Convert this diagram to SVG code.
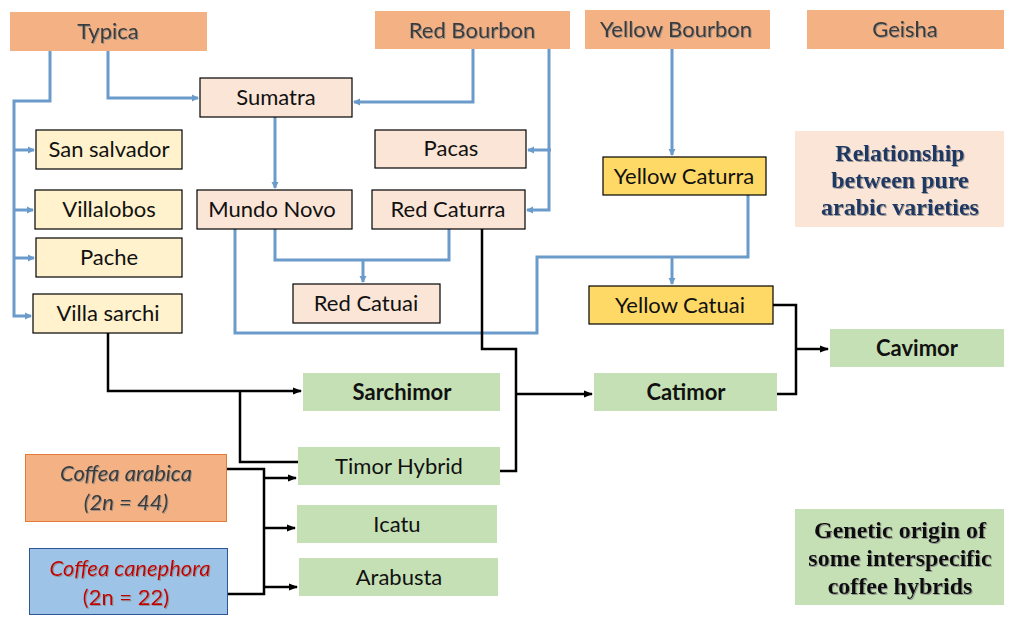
<svg xmlns="http://www.w3.org/2000/svg" width="1011" height="621" viewBox="0 0 1011 621">
<defs>
<style>
.hdr{fill:#F4B183}
.pk{fill:#FBE5D6;stroke:#000;stroke-width:1.2}
.yl{fill:#FFF2CC;stroke:#000;stroke-width:1.2}
.yd{fill:#FFD966;stroke:#000;stroke-width:1.2}
.gr{fill:#C5E0B4}
text{font-family:Lato,"Open Sans","Liberation Sans",sans-serif;font-size:22px;fill:#111;text-anchor:middle}
.ht{fill:#3a3a3a;filter:url(#sh)}
.b{font-weight:bold}
.ser{font-family:"Liberation Serif","DejaVu Serif",serif;font-weight:bold;font-size:24px;filter:url(#sh)}
.blu{stroke:#6A9BCB;stroke-width:3;fill:none}
.blk{stroke:#000;stroke-width:2.5;fill:none}
</style>
<filter id="sh" x="-10%" y="-20%" width="130%" height="150%"><feDropShadow dx="1" dy="1" stdDeviation="0.6" flood-color="#888" flood-opacity="0.8"/></filter>
<marker id="ab" markerWidth="8" markerHeight="8" refX="6" refY="4" orient="auto" markerUnits="userSpaceOnUse"><path d="M0,0.5 L7,4 L0,7.5 Z" fill="#6A9BCB"/></marker>
<marker id="ak" markerWidth="10" markerHeight="8" refX="8" refY="4" orient="auto" markerUnits="userSpaceOnUse"><path d="M0,0.5 L9,4 L0,7.5 Z" fill="#000"/></marker>
</defs>
<rect width="1011" height="621" fill="#fff"/>
<g id="connectors">
<path class="blu" d="M50,51 V101 H14 V316 H31" marker-end="url(#ab)"/>
<path class="blu" d="M14,150 H34" marker-end="url(#ab)"/>
<path class="blu" d="M14,210 H33" marker-end="url(#ab)"/>
<path class="blu" d="M14,258 H34" marker-end="url(#ab)"/>
<path class="blu" d="M108,51 V98 H198" marker-end="url(#ab)"/>
<path class="blu" d="M473,49 V102 H354" marker-end="url(#ab)"/>
<path class="blu" d="M549,49 V210 H527" marker-end="url(#ab)"/>
<path class="blu" d="M551,150 H528" marker-end="url(#ab)"/>
<path class="blu" d="M275,117 V188" marker-end="url(#ab)"/>
<path class="blu" d="M275,229 V260 H449 V229"/>
<path class="blu" d="M363,260 V282" marker-end="url(#ab)"/>
<path class="blu" d="M235,229 V333 H537 V257 H748 V195"/>
<path class="blu" d="M672,257 V284" marker-end="url(#ab)"/>
<path class="blu" d="M672,49 V155" marker-end="url(#ab)"/>
<path class="blk" d="M108,333 V391 H301" marker-end="url(#ak)"/>
<path class="blk" d="M298,462 H240 V391"/>
<path class="blk" d="M482,229 V349 H516 V471 H500"/>
<path class="blk" d="M516,394 H592" marker-end="url(#ak)"/>
<path class="blk" d="M227,469 H264 V594 H228"/>
<path class="blk" d="M264,478 H296" marker-end="url(#ak)"/>
<path class="blk" d="M264,528 H295" marker-end="url(#ak)"/>
<path class="blk" d="M264,587 H297" marker-end="url(#ak)"/>
<path class="blk" d="M773,305 H796 V394 H777"/>
<path class="blk" d="M796,349 H828" marker-end="url(#ak)"/>
</g>
<g id="typica"><rect class="hdr" x="10" y="12" width="197" height="39"/><text class="ht" x="108" y="39">Typica</text></g>
<g id="red-bourbon"><rect class="hdr" x="375" y="11" width="195" height="38"/><text class="ht" x="472" y="38">Red Bourbon</text></g>
<g id="yellow-bourbon"><rect class="hdr" x="585" y="10" width="185" height="39"/><text class="ht" x="676" y="37">Yellow Bourbon</text></g>
<g id="geisha"><rect class="hdr" x="807" y="10" width="197" height="39"/><text class="ht" x="905" y="37">Geisha</text></g>
<g id="sumatra"><rect class="pk" x="200" y="78" width="152" height="39"/><text x="276" y="105">Sumatra</text></g>
<g id="san-salvador"><rect class="yl" x="36" y="130" width="146" height="39"/><text x="109" y="157">San salvador</text></g>
<g id="villalobos"><rect class="yl" x="35" y="190" width="147" height="39"/><text x="109" y="217">Villalobos</text></g>
<g id="pache"><rect class="yl" x="36" y="238" width="146" height="39"/><text x="109" y="265">Pache</text></g>
<g id="villa-sarchi"><rect class="yl" x="33" y="294" width="149" height="39"/><text x="108" y="321">Villa sarchi</text></g>
<g id="mundo-novo"><rect class="pk" x="197" y="190" width="155" height="39"/><text x="272" y="217">Mundo Novo</text></g>
<g id="pacas"><rect class="pk" x="375" y="130" width="151" height="38"/><text x="451" y="156">Pacas</text></g>
<g id="red-caturra"><rect class="pk" x="372" y="190" width="153" height="39"/><text x="448" y="217">Red Caturra</text></g>
<g id="red-catuai"><rect class="pk" x="293" y="284" width="147" height="39"/><text x="366" y="311">Red Catuai</text></g>
<g id="yellow-caturra"><rect class="yd" x="603" y="157" width="163" height="38"/><text x="684" y="184">Yellow Caturra</text></g>
<g id="yellow-catuai"><rect class="yd" x="589" y="286" width="184" height="38"/><text x="680" y="313">Yellow Catuai</text></g>
<g id="relationship"><rect x="795" y="131" width="209" height="96" fill="#FBE5D6"/>
<text class="ser" x="900" y="161" style="fill:#1F3864">Relationship</text>
<text class="ser" x="900" y="188" style="fill:#1F3864">between pure</text>
<text class="ser" x="900" y="215" style="fill:#1F3864">arabic varieties</text></g>
<g id="cavimor"><rect class="gr" x="830" y="329" width="174" height="38"/><text class="b" x="917" y="356">Cavimor</text></g>
<g id="sarchimor"><rect class="gr" x="303" y="373" width="197" height="38"/><text class="b" x="402" y="400">Sarchimor</text></g>
<g id="catimor"><rect class="gr" x="594" y="373" width="183" height="38"/><text class="b" x="686" y="400">Catimor</text></g>
<g id="timor-hybrid"><rect class="gr" x="298" y="447" width="202" height="38"/><text x="399" y="474">Timor Hybrid</text></g>
<g id="icatu"><rect class="gr" x="297" y="505" width="200" height="38"/><text x="397" y="532">Icatu</text></g>
<g id="arabusta"><rect class="gr" x="299" y="558" width="199" height="38"/><text x="399" y="585">Arabusta</text></g>
<g id="coffea-arabica"><rect x="25.5" y="454.5" width="201" height="67" fill="#F4B183" stroke="#E07B39" stroke-width="1"/>
<text class="ht" x="126" y="481" font-style="italic" font-size="24">Coffea arabica</text>
<text class="ht" x="126" y="510" font-style="italic" font-size="24">(2n = 44)</text></g>
<g id="coffea-canephora"><rect x="29.5" y="548.5" width="198" height="66" fill="#9DC3E6" stroke="#2F5597" stroke-width="1"/>
<text class="ht" x="130" y="576" font-style="italic" font-size="24" style="fill:#C00000">Coffea canephora</text>
<text class="ht" x="126" y="605" font-size="24" style="fill:#C00000">(2n = 22)</text></g>
<g id="genetic-origin"><rect class="gr" x="795" y="509" width="209" height="96"/>
<text class="ser" x="900" y="538" style="fill:#111">Genetic origin of</text>
<text class="ser" x="900" y="566" style="fill:#111">some interspecific</text>
<text class="ser" x="900" y="594" style="fill:#111">coffee hybrids</text></g>
</svg>
